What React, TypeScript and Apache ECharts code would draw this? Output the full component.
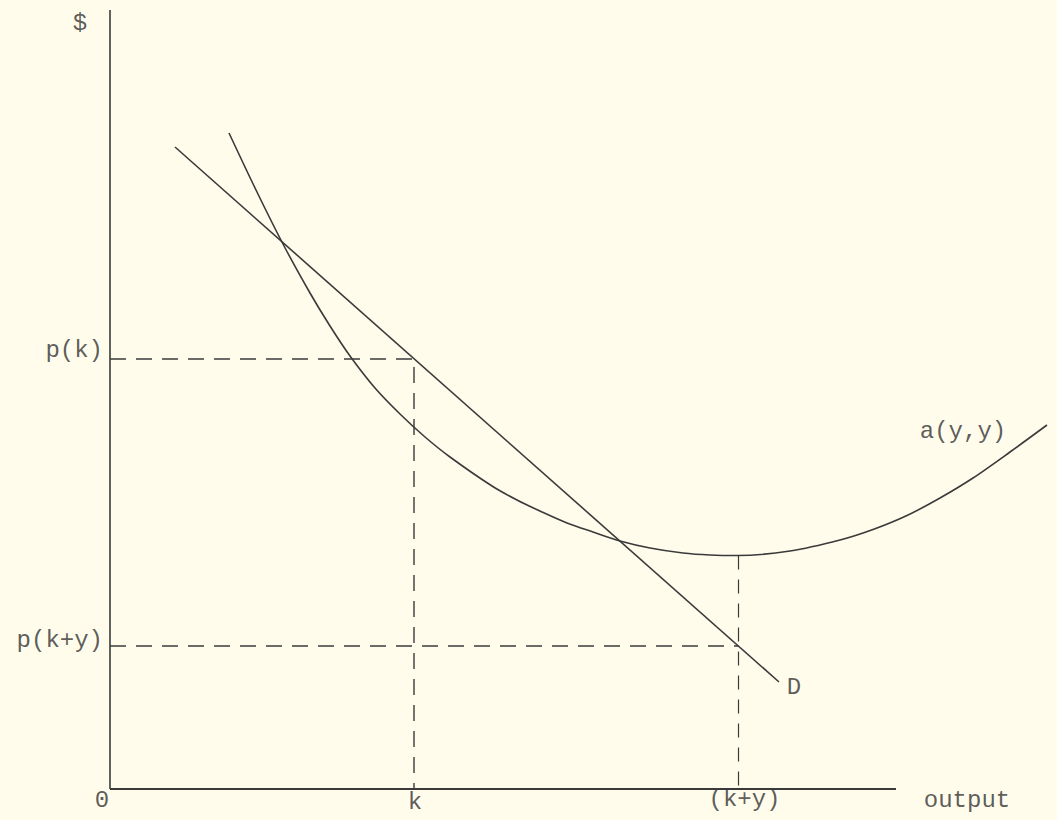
import React, { useEffect, useRef } from "react";
import * as echarts from "echarts";

// Average-cost curve a(y,y): output values and $ values
const curveX = [11.9, 14.6, 17.3, 20.0, 22.0, 24.0, 26.5, 29.0, 31.5, 34.0, 38.2, 40.7, 43.2, 45.7, 48.3, 51.0, 54.0, 57.3, 60.0, 62.8, 68.0, 73.0, 76.3, 79.7, 83.0, 86.3, 90.0, 93.7];
const curveY = [65.6, 59.9, 54.5, 49.6, 46.3, 43.3, 40.1, 37.5, 35.2, 33.2, 30.3, 28.9, 27.7, 26.6, 25.7, 24.8, 24.1, 23.6, 23.4, 23.35, 23.8, 24.9, 25.95, 27.35, 29.1, 31.1, 33.7, 36.4];

// Demand line D: end points
const demandX = [6.5, 66.9];
const demandY = [64.2, 10.7];

// Marked quantities and prices
const kOut = 30.4;
const kyOut = 62.85;
const pK = 43.0;
const pKY = 14.3;
const minCost = 23.35;

// Axis extents
const xAxisEnd = 78.6;
const yAxisEnd = 77.9;
const xMax = 93.7;

const FONT = "'Liberation Mono', 'DejaVu Sans Mono', monospace";
const INK = "#3a3a3a";

export default function App() {
  const ref = useRef<HTMLDivElement>(null);
  useEffect(() => {
    if (!ref.current) return;
    const chart = echarts.init(ref.current, undefined, { renderer: "svg" });

    const lineStyle = (w: number) => ({ color: INK, width: w, type: "solid" });
    const lbl = (text: string, x: number, y: number, offset: number[], position: any = "inside", distance = 0) => ({
      value: [x, y],
      label: {
        show: true,
        formatter: text,
        position,
        distance,
        offset,
        color: "#333",
        fontFamily: FONT,
        fontSize: 24,
      },
    });

    chart.setOption({
      animation: false,
      backgroundColor: "#fffcec",
      grid: { left: 110, top: 10, right: 10, bottom: 31 },
      xAxis: { type: "value", min: 0, max: xMax, show: false },
      yAxis: { type: "value", min: 0, max: yAxisEnd, show: false },
      series: [
        {
          type: "line", symbol: "none", silent: true,
          data: [[0, 0], [xAxisEnd, 0]],
          lineStyle: lineStyle(2),
        },
        {
          type: "line", symbol: "none", silent: true,
          data: [[0, 0], [0, yAxisEnd]],
          lineStyle: lineStyle(1.6),
        },
        {
          type: "line", symbol: "none", silent: true,
          data: [[0, pK], [kOut, pK], [kOut, 0]],
          lineStyle: { color: INK, width: 1.4, type: [16, 10] },
        },
        {
          type: "line", symbol: "none", silent: true,
          data: [[0, pKY], [kyOut, pKY]],
          lineStyle: { color: INK, width: 1.4, type: [16, 10] },
        },
        {
          type: "line", symbol: "none", silent: true,
          data: [[kyOut, minCost], [kyOut, 0]],
          lineStyle: { color: INK, width: 1.2, type: [14, 10] },
        },
        {
          type: "line", symbol: "none", silent: true,
          data: demandX.map((x, i) => [x, demandY[i]]),
          lineStyle: lineStyle(1.6),
        },
        {
          type: "line", symbol: "none", silent: true, smooth: 0.3,
          data: curveX.map((x, i) => [x, curveY[i]]),
          lineStyle: lineStyle(1.6),
        },
        {
          type: "scatter", symbolSize: 0, clip: false, silent: true,
          data: [
            lbl("$", 0, yAxisEnd, [-30, 13]),
            lbl("0", 0, 0, [-8, 11]),
            lbl("k", kOut, 0, [1, 13]),
            lbl("(k+y)", kyOut, 0, [6, 10]),
            lbl("output", xAxisEnd, 0, [71, 11]),
            lbl("p(k)", 0, pK, [0, -9], "left", 7),
            lbl("p(k+y)", 0, pKY, [0, -6], "left", 7),
            lbl("a(y,y)", curveX[curveX.length - 1], curveY[curveY.length - 1], [-84, 6]),
            lbl("D", demandX[1], demandY[1], [15, 5]),
          ],
        },
      ],
    });
    return () => chart.dispose();
  }, []);
  return (
    <div
      ref={ref}
      style={{ position: "fixed", left: 0, top: 0, width: 1057, height: 820, background: "#fffcec" }}
    />
  );
}
